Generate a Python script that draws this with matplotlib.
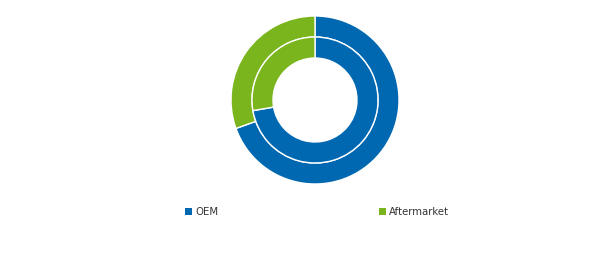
import matplotlib.pyplot as plt
from matplotlib.patches import Patch

# data
labels = ['OEM', 'Aftermarket']
outer_vals = [69.5, 30.5]
inner_vals = [72.3, 27.7]
colors = ['#0067b1', '#7ab51d']

fig = plt.figure(figsize=(6.02, 2.60), dpi=100)
ax = fig.add_axes([231 / 602, 76 / 260, 168 / 602, 168 / 260])

ax.pie(outer_vals, radius=1.0, colors=colors, startangle=90, counterclock=False,
       wedgeprops=dict(width=0.25, edgecolor='white', linewidth=1))
ax.pie(inner_vals, radius=0.75, colors=colors, startangle=90, counterclock=False,
       wedgeprops=dict(width=0.25, edgecolor='white', linewidth=1))
ax.set_xlim(-1, 1)
ax.set_ylim(-1, 1)
ax.set_aspect('equal')

handles = [Patch(facecolor=c, edgecolor='none') for c in colors]
fig.legend(handles, labels, ncol=2, loc='center', bbox_to_anchor=(317 / 602, 1 - 212 / 260),
           frameon=False, fontsize=7.3, handlelength=0.7, handleheight=0.7,
           handletextpad=0.3, columnspacing=15.8, labelcolor='#333333')

fig.savefig('out.png', dpi=100)
